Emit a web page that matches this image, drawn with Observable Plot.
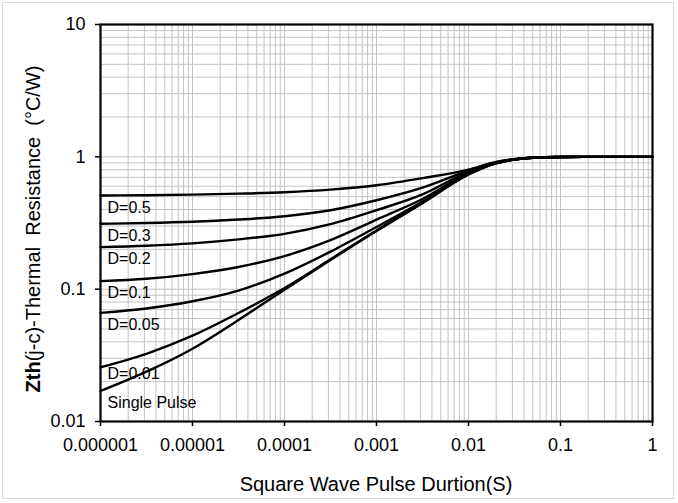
<!DOCTYPE html>
<html>
<head>
<meta charset="utf-8">
<script src="https://cdn.jsdelivr.net/npm/d3@7"></script>
<script src="https://cdn.jsdelivr.net/npm/@observablehq/plot@0.6"></script>
<style>
  html, body { margin: 0; padding: 0; background: #fff; }
  #wrap { position: relative; width: 678px; height: 503px; overflow: hidden; }
  #border { position: absolute; left: 2px; top: 2px; width: 672px; height: 497px; border: 1.5px solid #d9d9d9; box-sizing: border-box; }
  #wrap svg { position: absolute; left: 0; top: 0; }
</style>
</head>
<body>
<div id="wrap"><div id="border"></div></div>
<script>
// Pulse durations (s)
const pulseTimes = [1e-6, 3.16e-6, 1e-5, 3.16e-5, 1e-4, 3.16e-4, 1e-3, 3.16e-3, 1e-2, 2e-2, 3e-2, 5e-2, 1e-1, 3e-1, 1];

// Series names
const seriesNames = ["D=0.5", "D=0.3", "D=0.2", "D=0.1", "D=0.05", "D=0.01", "Single Pulse"];

// Zth values (°C/W) per series
const zD05    = [0.51,   0.513,  0.518,  0.527,  0.54,  0.565, 0.61,  0.69,  0.80,  0.915, 0.958, 0.986, 0.998, 1.0, 1.0];
const zD03    = [0.312,  0.316,  0.323,  0.336,  0.356, 0.395, 0.47,  0.585, 0.785, 0.91,  0.955, 0.985, 0.998, 1.0, 1.0];
const zD02    = [0.208,  0.213,  0.222,  0.238,  0.262, 0.31,  0.395, 0.52,  0.77,  0.905, 0.953, 0.985, 0.998, 1.0, 1.0];
const zD01    = [0.115,  0.12,   0.13,   0.147,  0.178, 0.235, 0.335, 0.48,  0.755, 0.90,  0.951, 0.985, 0.998, 1.0, 1.0];
const zD005   = [0.0662, 0.0715, 0.081,  0.0975, 0.131, 0.192, 0.295, 0.46,  0.745, 0.897, 0.95,  0.985, 0.998, 1.0, 1.0];
const zD001   = [0.0257, 0.0325, 0.0445, 0.066,  0.102, 0.168, 0.278, 0.45,  0.738, 0.895, 0.949, 0.985, 0.998, 1.0, 1.0];
const zSingle = [0.0170, 0.0238, 0.0355, 0.0585, 0.099, 0.166, 0.275, 0.447, 0.735, 0.894, 0.948, 0.985, 0.998, 1.0, 1.0];

// Axis ticks and labels
const xTicks = [1e-6, 1e-5, 1e-4, 1e-3, 1e-2, 1e-1, 1];
const xTickLabels = ["0.000001", "0.00001", "0.0001", "0.001", "0.01", "0.1", "1"];
const yTicks = [0.01, 0.1, 1, 10];
const yTickLabels = ["0.01", "0.1", "1", "10"];
const gridMultipliers = [1, 2, 3, 4, 5, 6, 7, 8, 9];

const xTitle = "Square Wave Pulse Durtion(S)";
const yTitleBold = "Zth";
const yTitleRest = "(j-c)-Thermal  Resistance  (°C/W)";

// Build tidy table
const seriesValues = [zD05, zD03, zD02, zD01, zD005, zD001, zSingle];
const rows = [];
seriesNames.forEach((name, si) => {
  pulseTimes.forEach((t, i) => rows.push({series: name, t, z: seriesValues[si][i]}));
});
const labelRows = seriesNames.map((name, si) => ({series: name, t: pulseTimes[0], z: seriesValues[si][0]}));

const xGrid = xTicks.slice(0, -1).flatMap(d => gridMultipliers.map(m => d * m)).concat([xTicks[xTicks.length - 1]]);
const yGrid = yTicks.slice(0, -1).flatMap(d => gridMultipliers.map(m => d * m)).concat([yTicks[yTicks.length - 1]]);

const xFmt = d => xTickLabels[xTicks.indexOf(d)];
const yFmt = d => yTickLabels[yTicks.indexOf(d)];

const plot = Plot.plot({
  width: 678,
  height: 503,
  marginLeft: 100,
  marginRight: 26,
  marginTop: 24,
  marginBottom: 82,
  style: {fontFamily: "'Liberation Sans', Arial, sans-serif", background: "transparent", color: "black"},
  x: {type: "log", domain: [1e-6, 1]},
  y: {type: "log", domain: [0.01, 10]},
  marks: [
    Plot.gridX(xGrid, {stroke: "#c4c4c4", strokeOpacity: 1, strokeWidth: 1}),
    Plot.gridY(yGrid, {stroke: "#c4c4c4", strokeOpacity: 1, strokeWidth: 1}),
    Plot.line(rows, {x: "t", y: "z", z: "series", curve: "monotone-x", stroke: "black", strokeWidth: 2.4}),
    Plot.text(labelRows.filter(d => d.series !== "D=0.01"), {x: "t", y: "z", text: "series", textAnchor: "start", dx: 7, dy: 12, fontSize: 16, fill: "black"}),
    Plot.text(labelRows.filter(d => d.series === "D=0.01"), {x: "t", y: "z", text: "series", textAnchor: "start", dx: 7, dy: 7, fontSize: 16, fill: "black"}),
    Plot.axisX(xTicks, {tickFormat: xFmt, tickSize: 5, tickPadding: 12, fontSize: 18, label: null, strokeWidth: 1.5}),
    Plot.axisY(yTicks, {tickFormat: yFmt, tickSize: 5, tickPadding: 10, fontSize: 18, label: null, strokeWidth: 1.5}),
    Plot.frame({stroke: "black", strokeWidth: 2.2})
  ]
});

const svg = d3.select(plot);
svg.append("text")
  .attr("x", 376)
  .attr("y", 491)
  .attr("text-anchor", "middle")
  .style("font-size", "20px")
  .attr("fill", "black")
  .text(xTitle);

const yt = svg.append("text")
  .attr("transform", "translate(33,229) rotate(-90)")
  .attr("text-anchor", "middle")
  .attr("dominant-baseline", "central")
  .style("font-size", "20px")
  .style("white-space", "pre")
  .attr("fill", "black");
yt.append("tspan").attr("font-weight", "bold").text(yTitleBold);
yt.append("tspan").text(yTitleRest);

document.getElementById("wrap").appendChild(plot);
</script>
</body>
</html>
